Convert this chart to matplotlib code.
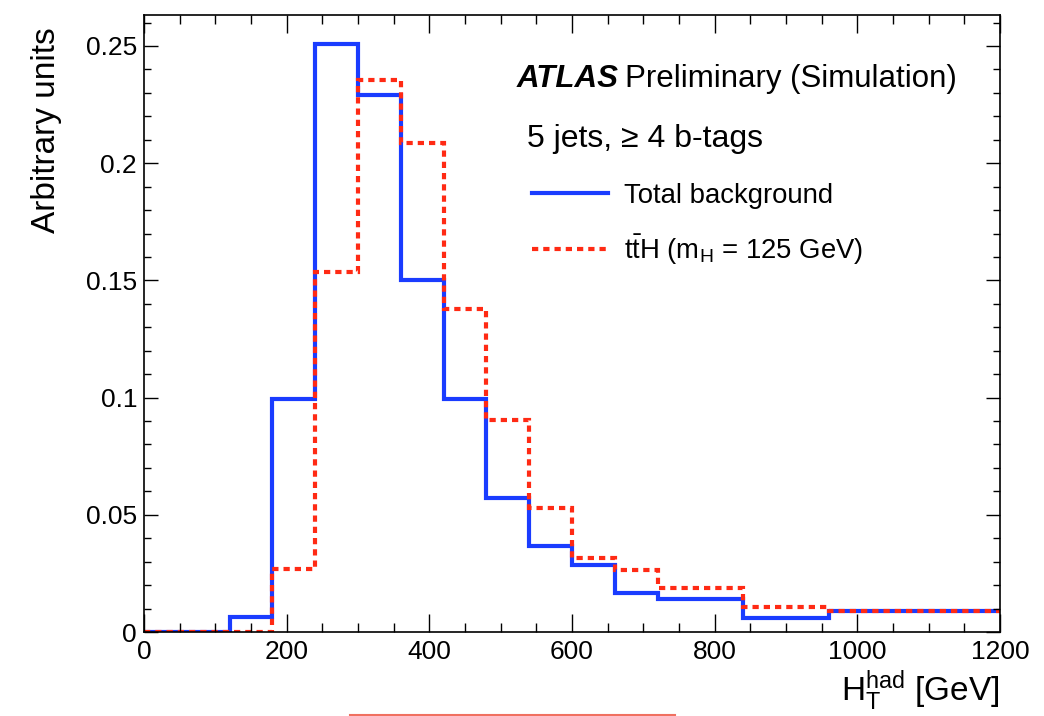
import numpy as np
import matplotlib.pyplot as plt
from matplotlib.ticker import MultipleLocator
from matplotlib.lines import Line2D

plt.rcParams["font.family"] = ["Liberation Sans", "DejaVu Sans"]
plt.rcParams["mathtext.fontset"] = "custom"
plt.rcParams["mathtext.rm"] = "Liberation Sans"
plt.rcParams["mathtext.it"] = "Liberation Sans:italic"

# --- Data ---
edges = [0, 120, 180, 240, 300, 360, 420, 480, 540, 600, 660, 720, 840, 960, 1200]
background = [0.0, 0.0064, 0.0993, 0.2507, 0.2290, 0.1500, 0.0996, 0.0571,
              0.0367, 0.0285, 0.0166, 0.0141, 0.0060, 0.0090]
tth = [0.0, 0.0, 0.0267, 0.1535, 0.2355, 0.2088, 0.1380, 0.0906,
       0.0528, 0.0316, 0.0266, 0.0188, 0.0107, 0.0090]

blue = "#1a3cff"
red = "#ff2a14"

fig = plt.figure(figsize=(10.44, 7.16), dpi=100)
ax = fig.add_axes([0.1379, 0.1173, 0.82, 0.8617])

ax.stairs(background, edges, baseline=None, color=blue, linewidth=3.0,
          label="Total background")
ax.stairs(tth, edges, baseline=None, color=red, linewidth=3.0,
          linestyle=(0, (1.5, 1.2)),
          label=r"$\mathrm{t\bar{t}H}$ (m$_{\mathrm{H}}$ = 125 GeV)")

ax.set_xlim(0, 1200)
ax.set_ylim(0, 0.2632)

# ROOT-style ticks
ax.xaxis.set_major_locator(MultipleLocator(200))
ax.xaxis.set_minor_locator(MultipleLocator(50))
ax.yaxis.set_major_locator(MultipleLocator(0.05))
ax.yaxis.set_minor_locator(MultipleLocator(0.01))
ax.tick_params(axis="both", which="both", direction="in", top=True, right=True,
               width=1.0, labelsize=19)
ax.tick_params(axis="x", which="major", length=13, pad=6)
ax.tick_params(axis="x", which="minor", length=6.5)
ax.tick_params(axis="y", which="major", length=10, pad=5)
ax.tick_params(axis="y", which="minor", length=5)
ax.set_yticks([0, 0.05, 0.1, 0.15, 0.2, 0.25])
ax.set_yticklabels(["0", "0.05", "0.1", "0.15", "0.2", "0.25"])
for s in ax.spines.values():
    s.set_linewidth(1.2)

ax.set_xlabel(r"$\mathrm{H_T^{had}}$ [GeV]", fontsize=24, loc="right", labelpad=3)
ax.set_ylabel("Arbitrary units", fontsize=24, loc="top")
ax.yaxis.set_label_coords(-0.096, 0.981)

# Labels
atl = fig.text(517 / 1044, 1 - 87 / 716, "ATLAS", fontsize=22.5, fontweight="bold",
               fontstyle="italic", va="baseline")
ax.annotate("Preliminary (Simulation)", xy=(1, 0), xycoords=atl,
            xytext=(6, 0), textcoords="offset pixels", fontsize=22.5,
            va="bottom")
fig.text(527 / 1044, 1 - 147 / 716, "5 jets, \u2265 4 b-tags", fontsize=23,
         va="baseline")

ax.legend(loc="upper left", bbox_to_anchor=(532 / 1044, 1 - 183 / 716),
          bbox_transform=fig.transFigure, frameon=False, fontsize=19.8,
          handlelength=2.75, handletextpad=0.6, labelspacing=0.85,
          borderpad=0, borderaxespad=0)

# thin stray line at the bottom edge of the picture
fig.add_artist(Line2D([350 / 1044, 675 / 1044], [1.5 / 716, 1.5 / 716],
                      transform=fig.transFigure, color="#f07060", linewidth=1.5))

fig.savefig("out.png", dpi=100)
